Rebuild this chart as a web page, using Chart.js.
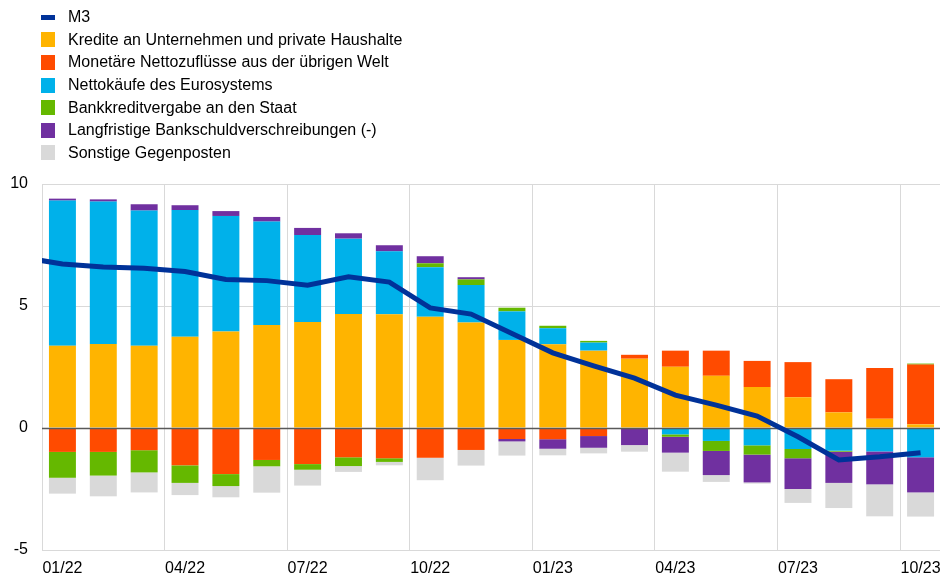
<!DOCTYPE html>
<html lang="de">
<head>
<meta charset="utf-8">
<script src="https://cdn.jsdelivr.net/npm/chart.js@4"></script>
<style>
  html, body { margin: 0; padding: 0; background: #fff; overflow: hidden; }
  #wrap { position: relative; width: 940px; height: 575px; overflow: hidden; }
  #legend { position: absolute; left: 41px; top: 6px; font: 16px "Liberation Sans", Arial, sans-serif; color: #000; }
  .item { display: flex; align-items: center; height: 22.6px; white-space: nowrap; }
  .box { width: 14px; height: 15px; margin-right: 13px; flex: none; }
  .box.line { height: 5px; }
</style>
</head>
<body>
<div id="wrap">
  <!-- one pixel wider than the page: the plot's right frame falls outside the view -->
  <canvas id="m3Chart" width="941" height="575"></canvas>
  <div id="legend"></div>
</div>
<script>
// Monthly bars 01/22 - 10/23, percentage points
const months = ['01/22','02/22','03/22','04/22','05/22','06/22','07/22','08/22','09/22','10/22','11/22','12/22',
                '01/23','02/23','03/23','04/23','05/23','06/23','07/23','08/23','09/23','10/23'];

const kredite   = [3.37, 3.44, 3.37, 3.74, 3.96, 4.22, 4.34, 4.67, 4.66, 4.56, 4.32, 3.61, 3.43, 3.17, 2.84, 2.51, 2.14, 1.68, 1.26, 0.64, 0.38, 0.15];
const monetaer  = [-0.98, -0.98, -0.91, -1.53, -1.89, -1.31, -1.48, -1.20, -1.24, -1.22, -0.90, -0.45, -0.46, -0.33, 0.16, 0.66, 1.03, 1.07, 1.44, 1.36, 2.08, 2.45];
const netto     = [5.95, 5.84, 5.54, 5.19, 4.73, 4.24, 3.57, 3.09, 2.58, 2.03, 1.54, 1.17, 0.66, 0.33, 0, -0.26, -0.53, -0.71, -0.86, -0.93, -0.96, -1.20];
const staat     = [-1.06, -0.97, -0.91, -0.72, -0.49, -0.26, -0.23, -0.36, -0.15, 0.16, 0.23, 0.15, 0.10, 0.07, 0, -0.10, -0.41, -0.38, -0.38, -0.04, 0, 0.04];
const langfr    = [0.08, 0.09, 0.26, 0.20, 0.20, 0.19, 0.29, 0.22, 0.25, 0.29, 0.09, -0.10, -0.39, -0.48, -0.70, -0.65, -0.99, -1.14, -1.26, -1.28, -1.35, -1.44];
const sonstige  = [-0.65, -0.85, -0.82, -0.50, -0.46, -1.08, -0.65, -0.24, -0.14, -0.92, -0.64, -0.58, -0.27, -0.23, -0.27, -0.78, -0.28, -0.05, -0.57, -1.03, -1.31, -0.99];

// M3 growth, starting one month earlier (12/21), so the first segment runs off the left edge
const m3 = [7.0, 6.72, 6.6, 6.55, 6.41, 6.09, 6.04, 5.85, 6.2, 5.98, 4.92, 4.67, 3.87, 3.08, 2.55, 2.04, 1.35, 0.94, 0.49, -0.36, -1.31, -1.18, -1.01];

const FONT = { family: '"Liberation Sans", Arial, sans-serif', size: 16 };
const GRID = '#d9d9d9';
const NONE = 'rgba(0,0,0,0)';

const series = [
    { label: 'Kredite an Unternehmen und private Haushalte', data: kredite, color: '#FFB400' },
    { label: 'Monetäre Nettozuflüsse aus der übrigen Welt', data: monetaer, color: '#FF4B00' },
    { label: 'Nettokäufe des Eurosystems', data: netto, color: '#00B1EA' },
    { label: 'Bankkreditvergabe an den Staat', data: staat, color: '#65B800' },
    { label: 'Langfristige Bankschuldverschreibungen (-)', data: langfr, color: '#7030A0' },
    { label: 'Sonstige Gegenposten', data: sonstige, color: '#D9D9D9' }
];

// zero line goes under the M3 line but over the bars
const zeroLine = {
    id: 'zeroLine',
    beforeDatasetDraw(chart, args) {
        if (args.index !== 0) return;
        const { ctx, chartArea, scales: { y } } = chart;
        const py = Math.round(y.getPixelForValue(0)) + 0.5;
        ctx.save();
        ctx.strokeStyle = '#595959';
        ctx.lineWidth = 1.5;
        ctx.beginPath();
        ctx.moveTo(chartArea.left, py);
        ctx.lineTo(chartArea.right, py);
        ctx.stroke();
        ctx.restore();
    }
};

const datasets = [{
    type: 'line',
    label: 'M3',
    data: m3.map((v, i) => ({ x: i - 1, y: v })),
    xAxisID: 'x2',
    borderColor: '#003299',
    backgroundColor: '#003299',
    borderWidth: 5,
    pointRadius: 0,
    tension: 0,
    order: 0
}].concat(series.map((s, i) => ({
    type: 'bar',
    label: s.label,
    data: s.data,
    backgroundColor: s.color,
    borderWidth: 0,
    grouped: false,
    barPercentage: 0.66,
    categoryPercentage: 1,
    order: i + 1
})));

new Chart(document.getElementById('m3Chart'), {
    data: { labels: months, datasets: datasets },
    plugins: [zeroLine],
    options: {
        responsive: false,
        animation: false,
        layout: { padding: { top: 184, left: 0, right: 0, bottom: 0 } },
        plugins: { legend: { display: false }, tooltip: { enabled: false } },
        scales: {
            x: {
                stacked: true,
                offset: true,
                grid: {
                    offset: true,
                    drawTicks: false,
                    // a separator before every quarter's first month only
                    color: c => (c.type === 'tick' && c.index % 3 === 0 ? GRID : NONE)
                },
                border: { color: GRID },
                ticks: {
                    autoSkip: false,
                    maxRotation: 0,
                    padding: 9,
                    color: '#000',
                    font: FONT,
                    callback: (v, i) => (i % 3 === 0 ? months[i] : '')
                },
                afterFit: s => { s.height = 25; s.paddingLeft = 0; s.paddingRight = 0; }
            },
            x2: { type: 'linear', display: false, min: -0.5, max: 21.5 },
            y: {
                stacked: true,
                min: -5,
                max: 10,
                grid: {
                    drawTicks: false,
                    color: c => (c.tick && c.tick.value === 0 ? NONE : GRID)
                },
                border: { color: GRID },
                ticks: { stepSize: 5, padding: 14, color: '#000', font: FONT },
                afterFit: s => { s.width = 42; }
            }
        }
    }
});

// one-column legend in the top left corner
const legendBox = document.getElementById('legend');
const legendItems = [{ label: 'M3', color: '#003299', line: true }].concat(series);
legendItems.forEach(it => {
    const row = document.createElement('div');
    row.className = 'item';
    const sw = document.createElement('span');
    sw.className = it.line ? 'box line' : 'box';
    sw.style.background = it.color;
    const tx = document.createElement('span');
    tx.textContent = it.label;
    row.appendChild(sw);
    row.appendChild(tx);
    legendBox.appendChild(row);
});
</script>
</body>
</html>
